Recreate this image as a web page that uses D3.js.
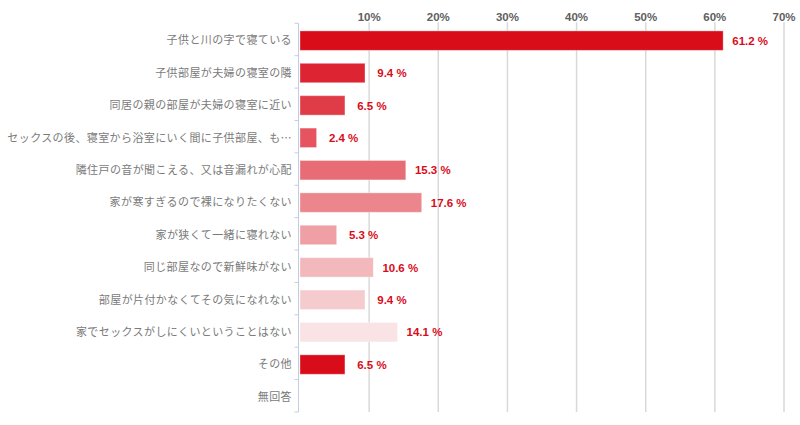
<!DOCTYPE html>
<html>
<head>
<meta charset="utf-8">
<script src="https://cdn.jsdelivr.net/npm/d3@7/dist/d3.min.js"></script>
<style>
  html, body { margin: 0; padding: 0; background: #fff; }
  svg { display: block; }
</style>
</head>
<body>
<svg id="chart" width="800" height="425"></svg>
<script>
const categories = [
  "子供と川の字で寝ている",
  "子供部屋が夫婦の寝室の隣",
  "同居の親の部屋が夫婦の寝室に近い",
  "セックスの後、寝室から浴室にいく間に子供部屋、も…",
  "隣住戸の音が聞こえる、又は音漏れが心配",
  "家が寒すぎるので裸になりたくない",
  "家が狭くて一緒に寝れない",
  "同じ部屋なので新鮮味がない",
  "部屋が片付かなくてその気になれない",
  "家でセックスがしにくいということはない",
  "その他",
  "無回答"
];
const values = [61.2, 9.4, 6.5, 2.4, 15.3, 17.6, 5.3, 10.6, 9.4, 14.1, 6.5, 0];
const barColors = ["#d90c1a", "#dd2432", "#e03c48", "#e5545f", "#e86c75", "#ec868d",
                   "#efa0a5", "#f3b8bc", "#f6cbce", "#fae3e5", "#d90c1a", "#d90c1a"];
const tickValues = [10, 20, 30, 40, 50, 60, 70];

(function () {
const svg = d3.select("#chart");
const mLeft = 300, mRight = 784, mTop = 23.3, mBottom = 412;

const x = d3.scaleLinear().domain([0, 70]).range([mLeft, mRight]);
const y = d3.scaleBand().domain(categories).range([mTop, mBottom]).padding(0);
const bw = y.bandwidth();

// gridlines
svg.append("g")
  .selectAll("line")
  .data(tickValues)
  .join("line")
  .attr("x1", d => x(d)).attr("x2", d => x(d))
  .attr("y1", mTop - 1).attr("y2", mBottom)
  .attr("stroke", "#d9d9d9")
  .attr("stroke-width", 1.5);

// tick labels on top
svg.append("g")
  .selectAll("text")
  .data(tickValues)
  .join("text")
  .attr("x", d => x(d))
  .attr("y", 21)
  .attr("text-anchor", "middle")
  .attr("font-family", "Liberation Sans, Arial, sans-serif")
  .attr("font-size", 11.5)
  .attr("font-weight", "bold")
  .attr("fill", "#606060")
  .text(d => d + "%");

// left axis
const axisG = svg.append("g").attr("transform", `translate(${mLeft - 1.5},0)`);
const yAxis = d3.axisLeft(y).tickSize(0).tickFormat("");
axisG.call(yAxis);
axisG.select(".domain").remove();
axisG.append("line")
  .attr("x1", 0).attr("x2", 0)
  .attr("y1", mTop).attr("y2", mBottom)
  .attr("stroke", "#c3cde0").attr("stroke-width", 1);
const boundaries = categories.map(c => y(c)).concat([mBottom]);
axisG.selectAll("line.tk")
  .data(boundaries)
  .join("line")
  .attr("class", "tk")
  .attr("x1", -4).attr("x2", 0)
  .attr("y1", d => d).attr("y2", d => d)
  .attr("stroke", "#c3cde0").attr("stroke-width", 1);

// category labels
svg.append("g")
  .selectAll("text")
  .data(categories)
  .join("text")
  .attr("x", 292)
  .attr("y", d => y(d) + bw * 0.235 + bw * 0.3)
  .attr("dy", "0.35em")
  .attr("text-anchor", "end")
  .attr("font-family", "Noto Sans CJK JP, sans-serif")
  .attr("font-size", 11)
  .attr("letter-spacing", "0.4px")
  .attr("fill", "#7a7a7a")
  .text(d => d);

// bars
const barH = bw * 0.6;
svg.append("g")
  .selectAll("rect")
  .data(values)
  .join("rect")
  .attr("x", x(0))
  .attr("y", (d, i) => y(categories[i]) + bw * 0.235)
  .attr("width", d => Math.max(0, x(d) - x(0)))
  .attr("height", barH)
  .attr("fill", (d, i) => barColors[i])
  .attr("stroke", "rgba(255,255,255,0.35)")
  .attr("stroke-width", 1);

// value labels
svg.append("g")
  .selectAll("text")
  .data(values.map((v, i) => ({v, i})).filter(d => d.v > 0))
  .join("text")
  .attr("x", d => x(d.v) + 27)
  .attr("y", d => y(categories[d.i]) + bw * 0.235 + barH / 2)
  .attr("dy", "0.36em")
  .attr("text-anchor", "middle")
  .attr("font-family", "Liberation Sans, Arial, sans-serif")
  .attr("font-size", 11.5)
  .attr("font-weight", "bold")
  .attr("fill", "#d90c1a")
  .text(d => d.v.toFixed(1) + " %");
})();
</script>
</body>
</html>
